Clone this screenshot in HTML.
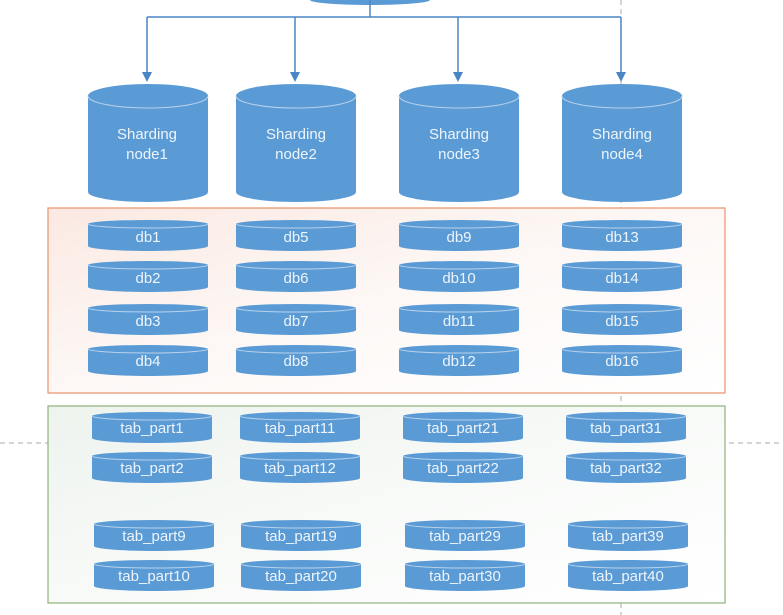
<!DOCTYPE html>
<html><head><meta charset="utf-8"><style>
html,body{margin:0;padding:0;background:#fff;}
svg{display:block;}
text{font-family:"Liberation Sans",sans-serif;fill:#eef4fb;text-anchor:middle;}
</style></head><body>
<svg width="783" height="615" viewBox="0 0 783 615" xmlns="http://www.w3.org/2000/svg">
<defs>
<linearGradient id="og" x1="0" y1="0" x2="1" y2="1"><stop offset="0" stop-color="#fbe9e2"/><stop offset="0.5" stop-color="#fdf8f6"/><stop offset="1" stop-color="#fff"/></linearGradient>
<linearGradient id="gg" x1="0" y1="0" x2="1" y2="1"><stop offset="0" stop-color="#eef3ee"/><stop offset="0.5" stop-color="#f8faf8"/><stop offset="1" stop-color="#fff"/></linearGradient>
<g id="big"><path d="M0 12 L0 108 A60 10 0 0 0 120 108 L120 12 A60 12 0 0 0 0 12Z" fill="#5b9bd5"/><path d="M0 12 A60 12 0 0 0 120 12" fill="none" stroke="#b9d2ec" stroke-width="1"/></g>
<g id="sm"><path d="M0 4 L0 26 A60 5 0 0 0 120 26 L120 4 A60 4 0 0 0 0 4Z" fill="#5b9bd5"/><path d="M0 4 A60 4 0 0 0 120 4" fill="none" stroke="#b9d2ec" stroke-width="1"/></g>
</defs>
<line x1="621" y1="0" x2="621" y2="615" stroke="#aaa" stroke-dasharray="5,4"/>
<line x1="0" y1="443" x2="783" y2="443" stroke="#aaa" stroke-dasharray="5,4"/>
<rect x="48" y="208" width="677" height="185" fill="url(#og)" stroke="#e9916a" stroke-width="1.2"/>
<rect x="48" y="406" width="677" height="197" fill="url(#gg)" stroke="#8fb27a" stroke-width="1.2"/>
<path d="M310 0 A60 5 0 0 0 430 0Z" fill="#5b9bd5"/>
<g stroke="#4a86c5" stroke-width="1.5" fill="none">
<line x1="370" y1="0" x2="370" y2="17"/>
<line x1="147" y1="17" x2="621" y2="17"/>
<line x1="147" y1="17" x2="147" y2="74"/>
<line x1="295" y1="17" x2="295" y2="74"/>
<line x1="458" y1="17" x2="458" y2="74"/>
<line x1="621" y1="17" x2="621" y2="74"/>
</g>
<g fill="#4a86c5">
<path d="M142 72 L152 72 L147 82Z"/><path d="M290 72 L300 72 L295 82Z"/><path d="M453 72 L463 72 L458 82Z"/><path d="M616 72 L626 72 L621 82Z"/>
</g>
<use href="#big" x="88" y="84"/><use href="#big" x="236" y="84"/><use href="#big" x="399" y="84"/><use href="#big" x="562" y="84"/>
<g font-size="15">
<text x="147" y="139">Sharding</text><text x="147" y="159">node1</text>
<text x="296" y="139">Sharding</text><text x="296" y="159">node2</text>
<text x="459" y="139">Sharding</text><text x="459" y="159">node3</text>
<text x="622" y="139">Sharding</text><text x="622" y="159">node4</text>
</g>
<g>
<use href="#sm" x="88" y="220"/><use href="#sm" x="88" y="261"/><use href="#sm" x="88" y="304"/><use href="#sm" x="88" y="345"/>
<use href="#sm" x="236" y="220"/><use href="#sm" x="236" y="261"/><use href="#sm" x="236" y="304"/><use href="#sm" x="236" y="345"/>
<use href="#sm" x="399" y="220"/><use href="#sm" x="399" y="261"/><use href="#sm" x="399" y="304"/><use href="#sm" x="399" y="345"/>
<use href="#sm" x="562" y="220"/><use href="#sm" x="562" y="261"/><use href="#sm" x="562" y="304"/><use href="#sm" x="562" y="345"/>
</g>
<g font-size="15">
<text x="148" y="242">db1</text><text x="148" y="283">db2</text><text x="148" y="326">db3</text><text x="148" y="366">db4</text>
<text x="296" y="242">db5</text><text x="296" y="283">db6</text><text x="296" y="326">db7</text><text x="296" y="366">db8</text>
<text x="459" y="242">db9</text><text x="459" y="283">db10</text><text x="459" y="326">db11</text><text x="459" y="366">db12</text>
<text x="622" y="242">db13</text><text x="622" y="283">db14</text><text x="622" y="326">db15</text><text x="622" y="366">db16</text>
</g>
<g>
<use href="#sm" x="92" y="412"/><use href="#sm" x="92" y="452"/><use href="#sm" x="94" y="520"/><use href="#sm" x="94" y="560"/>
<use href="#sm" x="240" y="412"/><use href="#sm" x="240" y="452"/><use href="#sm" x="241" y="520"/><use href="#sm" x="241" y="560"/>
<use href="#sm" x="403" y="412"/><use href="#sm" x="403" y="452"/><use href="#sm" x="405" y="520"/><use href="#sm" x="405" y="560"/>
<use href="#sm" x="566" y="412"/><use href="#sm" x="566" y="452"/><use href="#sm" x="568" y="520"/><use href="#sm" x="568" y="560"/>
</g>
<g font-size="15">
<text x="152" y="433">tab_part1</text><text x="152" y="473">tab_part2</text><text x="154" y="541">tab_part9</text><text x="154" y="581">tab_part10</text>
<text x="300" y="433">tab_part11</text><text x="300" y="473">tab_part12</text><text x="301" y="541">tab_part19</text><text x="301" y="581">tab_part20</text>
<text x="463" y="433">tab_part21</text><text x="463" y="473">tab_part22</text><text x="465" y="541">tab_part29</text><text x="465" y="581">tab_part30</text>
<text x="626" y="433">tab_part31</text><text x="626" y="473">tab_part32</text><text x="628" y="541">tab_part39</text><text x="628" y="581">tab_part40</text>
</g>
</svg>
</body></html>
